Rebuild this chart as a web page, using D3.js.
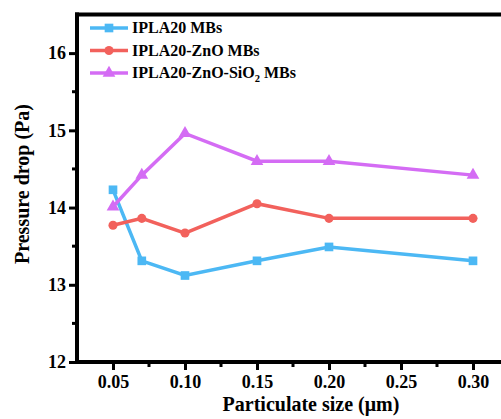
<svg id="svg" width="501" height="419"></svg>
<script src="https://cdn.jsdelivr.net/npm/d3@7"></script>
<script>
    var sizes = [0.05, 0.07, 0.10, 0.15, 0.20, 0.30];
    var ipla = [14.23, 13.31, 13.12, 13.31, 13.49, 13.31];
    var iplaZno = [13.77, 13.86, 13.67, 14.05, 13.86, 13.86];
    var iplaZnoSio2 = [14.01, 14.42, 14.96, 14.60, 14.60, 14.42];
    var xTicks = [0.05, 0.10, 0.15, 0.20, 0.25, 0.30];
    var yTicks = [12, 13, 14, 15, 16];

    var series = [
        { name: "IPLA20 MBs", values: ipla, color: "#4cb8f4", symbol: d3.symbolSquare, size: 75 },
        { name: "IPLA20-ZnO MBs", values: iplaZno, color: "#f2615c", symbol: d3.symbolCircle, size: 65 },
        { name: "IPLA20-ZnO-SiO", sub: "2", after: " MBs", values: iplaZnoSio2, color: "#d46cf4", symbol: d3.symbolTriangle, size: 70 }
    ];

    var svg = d3.select("#svg");
    var font = "'Liberation Serif', 'Times New Roman', serif";

    var x = d3.scaleLinear().domain([0.025, 0.325]).range([77, 509]);
    var y = d3.scaleLinear().domain([12, 16.5]).range([362, 14.5]);

    var xAxis = svg.append("g").attr("transform", "translate(0,362)")
        .call(d3.axisBottom(x).tickValues(xTicks).tickFormat(d3.format(".2f")).tickSize(8).tickPadding(5));
    var yAxis = svg.append("g").attr("transform", "translate(77,0)")
        .call(d3.axisLeft(y).tickValues(yTicks).tickFormat(d3.format("d")).tickSize(8).tickPadding(3));

    [xAxis, yAxis].forEach(function (g) {
        g.select(".domain").remove();
        g.selectAll(".tick line").attr("stroke", "#000").attr("stroke-width", 3);
        g.selectAll("text").attr("font-family", font).attr("font-weight", "bold")
            .attr("font-size", 18).attr("fill", "#000");
    });

    // minor ticks
    var xMinor = xTicks.map(function (t) { return t + 0.025; });
    var yMinor = yTicks.map(function (t) { return t + 0.5; }).filter(function (t) { return t < 16.5; });
    svg.selectAll(".xminor").data(xMinor).enter().append("rect")
        .attr("x", function (d) { return x(d) - 1.5; }).attr("y", 362).attr("width", 3).attr("height", 5)
        .attr("fill", "#000");
    svg.selectAll(".yminor").data(yMinor).enter().append("rect")
        .attr("y", function (d) { return y(d) - 1.5; }).attr("x", 72).attr("width", 5).attr("height", 3)
        .attr("fill", "#000");

    // frame drawn as filled bars
    svg.append("rect").attr("x", 75).attr("y", 12.5).attr("width", 4).attr("height", 351.5).attr("fill", "#000");
    svg.append("rect").attr("x", 75).attr("y", 360).attr("width", 426).attr("height", 4).attr("fill", "#000");
    svg.append("rect").attr("x", 75).attr("y", 12.5).attr("width", 426).attr("height", 4).attr("fill", "#000");

    var line = d3.line()
        .x(function (d, i) { return x(sizes[i]); })
        .y(function (d) { return y(d); });

    series.forEach(function (s) {
        svg.append("path").datum(s.values).attr("d", line)
            .attr("fill", "none").attr("stroke", s.color).attr("stroke-width", 3.5);
        svg.selectAll(null).data(s.values).enter().append("path")
            .attr("d", d3.symbol().type(s.symbol).size(s.size))
            .attr("transform", function (d, i) { return "translate(" + x(sizes[i]) + "," + y(d) + ")"; })
            .attr("fill", s.color);
    });

    // legend
    var legend = svg.append("g");
    series.forEach(function (s, i) {
        var ly = 28 + i * 22.5;
        legend.append("line").attr("x1", 90).attr("x2", 128).attr("y1", ly).attr("y2", ly)
            .attr("stroke", s.color).attr("stroke-width", 3.5);
        legend.append("path").attr("d", d3.symbol().type(s.symbol).size(s.size))
            .attr("transform", "translate(109," + ly + ")").attr("fill", s.color);
        var t = legend.append("text").attr("x", 132).attr("y", ly + 5)
            .attr("font-family", font).attr("font-weight", "bold").attr("font-size", 16).text(s.name);
        if (s.sub) {
            t.append("tspan").attr("font-size", 10.5).attr("dy", 4).text(s.sub);
            t.append("tspan").attr("dy", -4).text(s.after);
        }
    });

    svg.append("text").attr("x", 311).attr("y", 411).attr("text-anchor", "middle")
        .attr("font-family", font).attr("font-weight", "bold").attr("font-size", 20)
        .text("Particulate size (\u03bcm)");
    svg.append("text").attr("transform", "translate(29,184) rotate(-90)").attr("text-anchor", "middle")
        .attr("font-family", font).attr("font-weight", "bold").attr("font-size", 20)
        .text("Pressure drop (Pa)");
</script>
<style>
    html,
    body {
        margin: 0;
        padding: 0;
        background: #fff;
    }
</style>
